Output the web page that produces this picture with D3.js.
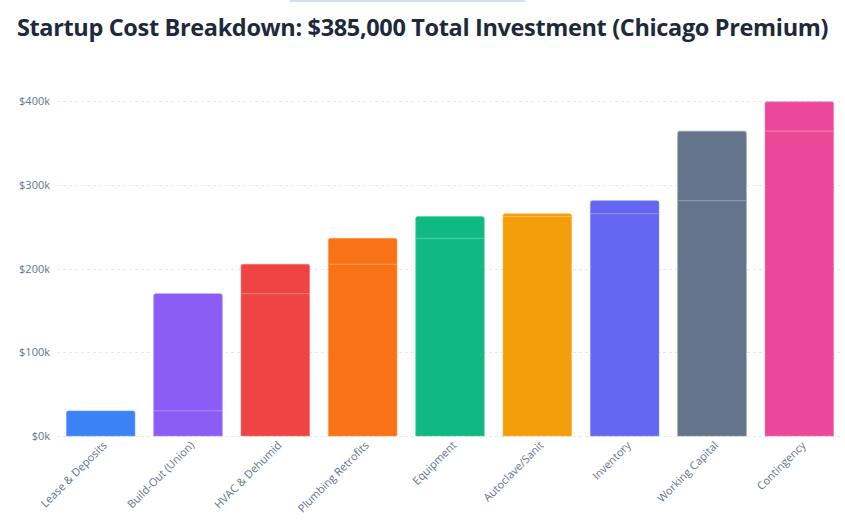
<!DOCTYPE html>
<html>
<head>
<meta charset="utf-8">
<script src="https://cdn.jsdelivr.net/npm/d3@7/dist/d3.min.js"></script>
<style>
  html, body { margin: 0; padding: 0; background: #ffffff; }
  svg { display: block; font-family: "Open Sans", "Noto Sans", sans-serif; }
</style>
</head>
<body>
<svg id="chart" width="845" height="525"></svg>
<script>
const categories = ["Lease & Deposits", "Build-Out (Union)", "HVAC & Dehumid", "Plumbing Retrofits",
  "Equipment", "Autoclave/Sanit", "Inventory", "Working Capital", "Contingency"];
// incremental cost of each item, in $k
const amounts = [30, 140, 35, 31, 26, 3.5, 15.5, 83, 35];
const colors = ["#3b82f6", "#8b5cf6", "#ef4444", "#f97316", "#10b981", "#f59e0b", "#6366f1", "#64748b", "#ec4899"];
const yTicks = [0, 100, 200, 300, 400];
const title = "Startup Cost Breakdown: $385,000 Total Investment (Chicago Premium)";

const svg = d3.select("#chart");
const W = 845, H = 525;
const m = { left: 57, right: 2, top: 101, bottom: 89 };

// cumulative
let run = 0;
const data = categories.map((c, i) => {
  const base = run; run += amounts[i];
  return { cat: c, base: base, top: run, color: colors[i] };
});

const x = d3.scaleBand().domain(categories).range([m.left, W - m.right]).paddingInner(0.214).paddingOuter(0.107);
const y = d3.scaleLinear().domain([0, 400]).range([H - m.bottom, m.top]);

// faint top strip
svg.append("rect").attr("x", 290).attr("y", 0).attr("width", 235).attr("height", 2).attr("fill", "#d3def5");

// title
svg.append("text").attr("x", W / 2).attr("y", 36).attr("text-anchor", "middle")
  .attr("font-size", 23.5).attr("font-weight", 700).attr("fill", "#1e293b")
  .attr("font-family", "'Open Sans', sans-serif").attr("letter-spacing", -0.35)
  .text(title);

// grid
const grid = svg.append("g");
grid.selectAll("line").data(yTicks).join("line")
  .attr("x1", m.left).attr("x2", W - m.right)
  .attr("y1", d => Math.round(y(d)) + 0.5).attr("y2", d => Math.round(y(d)) + 0.5)
  .attr("stroke", "#e5e7eb").attr("stroke-dasharray", "3,3").attr("stroke-width", 1);

// y axis
const yAxis = d3.axisLeft(y).tickValues(yTicks).tickSize(0).tickPadding(7).tickFormat(d => "$" + d + "k");
const gy = svg.append("g").attr("transform", `translate(${m.left},0)`).call(yAxis);
gy.select(".domain").remove();
gy.selectAll("text").attr("font-size", 11).attr("fill", "#64748b").attr("font-family", "'Open Sans', sans-serif");

// bars
const r = 2;
function topRounded(x0, y0, w, h) {
  return `M${x0},${y0 + h}V${y0 + r}Q${x0},${y0} ${x0 + r},${y0}H${x0 + w - r}Q${x0 + w},${y0} ${x0 + w},${y0 + r}V${y0 + h}Z`;
}
const bars = svg.append("g");
bars.selectAll("path").data(data).join("path")
  .attr("d", d => topRounded(x(d.cat), y(d.top), x.bandwidth(), y(0) - y(d.top)))
  .attr("fill", d => d.color)
  .attr("stroke", d => d3.interpolateRgb(d.color, "#ffffff")(0.3))
  .attr("stroke-width", 0.6);
// separator at previous cumulative total
bars.selectAll("line").data(data.filter(d => d.base > 0)).join("line")
  .attr("x1", d => x(d.cat)).attr("x2", d => x(d.cat) + x.bandwidth())
  .attr("y1", d => y(d.base)).attr("y2", d => y(d.base))
  .attr("stroke", d => d3.interpolateRgb(d.color, "#ffffff")(0.3))
  .attr("stroke-width", 1);

// x axis
const xAxis = d3.axisBottom(x).tickSize(0).tickPadding(0);
const gx = svg.append("g").attr("transform", `translate(0,${y(0)})`).call(xAxis);
gx.select(".domain").remove();
gx.selectAll("text")
  .attr("font-size", 11).attr("fill", "#64748b").attr("font-family", "'Open Sans', sans-serif")
  .attr("text-anchor", "end").attr("dy", 0)
  .attr("transform", "translate(7,10) rotate(-45)");
</script>
</body>
</html>
